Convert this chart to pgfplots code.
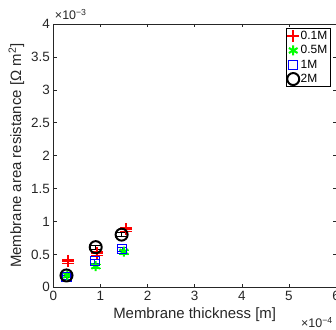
\documentclass[border=0pt]{standalone}
\usepackage{pgfplots}
\pgfplotsset{compat=1.18}
\usepackage{fontspec}
\setmainfont{Liberation Sans}
\definecolor{axgray}{gray}{0.15}
\begin{document}
\begin{tikzpicture}
\begin{axis}[name=ax, scale only axis, width=282.7bp, height=263.3bp,
  xmin=0, xmax=6, ymin=0, ymax=4,
  xtick={0,1,2,3,4,5,6}, ytick={0,0.5,1,1.5,2,2.5,3,3.5,4},
  tick align=inside, major tick length=3.5bp,
  axis line style={axgray, line width=0.5bp},
  every tick/.style={axgray, line width=0.5bp},
  /pgf/number format/assume math mode=true,
  tick label style={font=\fontsize{13.5}{16}\selectfont, text=axgray},
  label style={font=\fontsize{15}{18}\selectfont, text=axgray},
  xlabel={Membrane thickness [m]},
  ylabel={Membrane area resistance [Ω m\textsuperscript{2}]},
  legend style={at={(rel axis cs:0.979,0.983)}, anchor=north east, draw=black,
    line width=0.5bp, font=\fontsize{12}{14}\selectfont, inner sep=1bp,
    row sep=1.5bp, nodes={inner sep=1.5bp}},
  legend cell align=left,
  error bars/error bar style={line width=1bp},
]
\addplot[only marks, mark=+, color=red, mark size=6bp, line width=2bp,
  error bars/.cd, y dir=both, y explicit] coordinates {
  (0.32,0.40) +- (0,0.03)
  (0.92,0.52) +- (0,0.03)
  (1.54,0.88) +- (0,0.03)
};
\addlegendentry{0.1M}
\addplot[only marks, mark=asterisk, color=green, mark size=5bp, line width=2bp,
  error bars/.cd, y dir=both, y explicit] coordinates {
  (0.30,0.18) +- (0,0.03)
  (0.90,0.32) +- (0,0.03)
  (1.50,0.54) +- (0,0.03)
};
\addlegendentry{0.5M}
\addplot[only marks, mark=square, color=blue, mark size=4.5bp, line width=1.5bp,
  error bars/.cd, y dir=both, y explicit] coordinates {
  (0.28,0.16) +- (0,0.03)
  (0.88,0.40) +- (0,0.03)
  (1.46,0.58) +- (0,0.03)
};
\addlegendentry{1M}
\addplot[only marks, mark=o, color=black, mark size=6bp, line width=2bp,
  error bars/.cd, y dir=both, y explicit] coordinates {
  (0.28,0.18) +- (0,0.03)
  (0.90,0.61) +- (0,0.03)
  (1.45,0.80) +- (0,0.03)
};
\addlegendentry{2M}
\end{axis}
\node[anchor=base west, inner sep=0, text=axgray, font=\fontsize{12.5}{15}\selectfont]
  at ([xshift=1.5bp, yshift=4bp]ax.north west) {×10\textsuperscript{−3}};
\node[anchor=base west, inner sep=0, text=axgray, font=\fontsize{12.5}{15}\selectfont]
  at ([xshift=-35bp, yshift=-40.5bp]ax.south east) {×10\textsuperscript{−4}};
\pgfresetboundingbox
\path[use as bounding box] ([xshift=-53.3bp, yshift=-42.7bp]ax.south west)
  rectangle ([yshift=24bp]ax.north east);
\end{tikzpicture}
\end{document}
